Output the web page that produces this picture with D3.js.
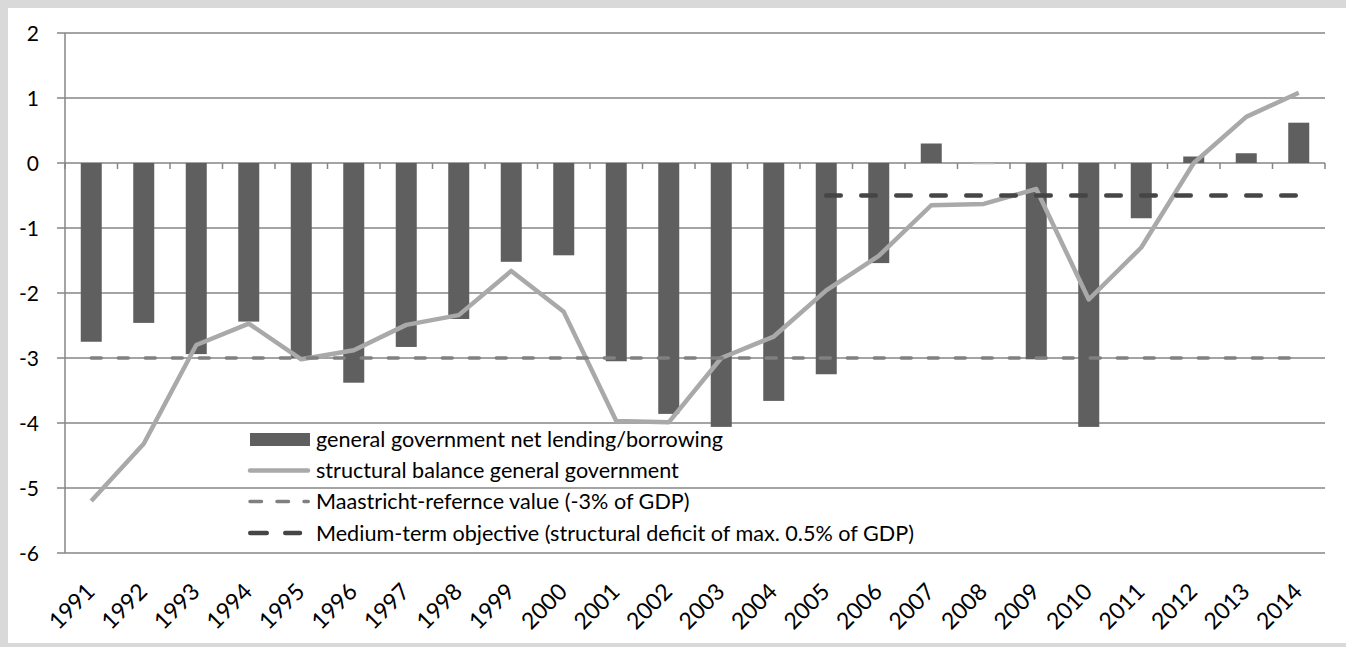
<!DOCTYPE html>
<html>
<head>
<meta charset="utf-8">
<script src="https://cdn.jsdelivr.net/npm/d3@7"></script>
<style>
  html, body { margin: 0; padding: 0; background: #d9d9d9; }
  svg { display: block; }
  text { font-family: Lato, "Open Sans", sans-serif; fill: #000; }
</style>
</head>
<body>
<svg id="chart" width="1346" height="647"></svg>
<script>
// Fiscal balance series, % of GDP
const years = ["1991","1992","1993","1994","1995","1996","1997","1998","1999","2000",
  "2001","2002","2003","2004","2005","2006","2007","2008","2009","2010",
  "2011","2012","2013","2014"];
const netLending = [-2.75,-2.46,-2.94,-2.44,-3.00,-3.38,-2.83,-2.40,-1.52,-1.42,
  -3.05,-3.86,-4.06,-3.66,-3.25,-1.54,0.30,-0.02,-3.02,-4.06,
  -0.85,0.10,0.15,0.62];
const structuralBalance = [-5.20,-4.32,-2.80,-2.47,-3.02,-2.88,-2.49,-2.34,-1.66,-2.29,
  -3.97,-3.99,-3.00,-2.67,-1.96,-1.43,-0.65,-0.63,-0.40,-2.10,
  -1.30,0.00,0.71,1.08];
const maastrichtValue = -3;
const maastrichtYears = ["1991","2014"];
const mtoValue = -0.5;
const mtoYears = ["2005","2014"];
const yTicks = [2,1,0,-1,-2,-3,-4,-5,-6];
const legendLabels = [
  "general government net lending/borrowing",
  "structural balance general government",
  "Maastricht-refernce value (-3% of GDP)",
  "Medium-term objective (structural deficit of max. 0.5% of GDP)"
];

const svg = d3.select("#chart");
svg.append("rect").attr("x", 8).attr("y", 8).attr("width", 1338).attr("height", 635).attr("fill", "#fff");

const plotL = 65, plotR = 1325, plotT = 33, plotB = 553;
const y = d3.scaleLinear().domain([-6, 2]).range([plotB, plotT]);
const x = d3.scaleBand().domain(years).range([plotL, plotR]).paddingInner(0.6).paddingOuter(0.3);
const cx = d => x(d) + x.bandwidth() / 2;
const edge = d3.scaleLinear().domain([0, years.length]).range([plotL, plotR]);

const gridColor = "#868686";
const barColor = "#5f5f5f";
const structColor = "#a9a9a9";
const maastrichtColor = "#808080";
const mtoColor = "#454545";

// horizontal gridlines with short left ticks
svg.append("g").selectAll("line").data(yTicks).join("line")
  .attr("x1", plotL - 8).attr("x2", plotR)
  .attr("y1", d => y(d)).attr("y2", d => y(d))
  .attr("stroke", gridColor).attr("stroke-width", 1.5);

// value axis line
svg.append("line").attr("x1", plotL).attr("x2", plotL).attr("y1", plotT).attr("y2", plotB)
  .attr("stroke", gridColor).attr("stroke-width", 1.5);

svg.append("g").selectAll("text").data(yTicks).join("text")
  .attr("x", 39).attr("y", d => y(d)).attr("dy", "0.36em")
  .attr("text-anchor", "end").attr("font-size", 21)
  .text(d => d);

// category axis along zero, ticks between categories
svg.append("g").selectAll("line").data(d3.range(years.length + 1)).join("line")
  .attr("x1", d => edge(d)).attr("x2", d => edge(d))
  .attr("y1", y(0)).attr("y2", y(0) + 6)
  .attr("stroke", gridColor).attr("stroke-width", 1.5);

// bars
svg.append("g").selectAll("rect").data(years).join("rect")
  .attr("x", d => x(d))
  .attr("width", x.bandwidth())
  .attr("y", (d, i) => y(Math.max(0, netLending[i])))
  .attr("height", (d, i) => Math.max(1, Math.abs(y(netLending[i]) - y(0))))
  .attr("fill", (d, i) => Math.abs(netLending[i]) < 0.05 ? "#bdbdbd" : barColor);

// structural balance line
const line = d3.line().x(d => cx(d[0])).y(d => y(d[1]));
svg.append("path").datum(years.map((d, i) => [d, structuralBalance[i]]))
  .attr("d", line).attr("fill", "none")
  .attr("stroke", structColor).attr("stroke-width", 4.5).attr("stroke-linejoin", "round");

// reference lines
svg.append("line")
  .attr("x1", cx(maastrichtYears[0])).attr("x2", cx(maastrichtYears[1]))
  .attr("y1", y(maastrichtValue)).attr("y2", y(maastrichtValue))
  .attr("stroke", maastrichtColor).attr("stroke-width", 3.5)
  .attr("stroke-dasharray", "10 17").attr("stroke-linecap", "round");

svg.append("line")
  .attr("x1", cx(mtoYears[0])).attr("x2", cx(mtoYears[1]))
  .attr("y1", y(mtoValue)).attr("y2", y(mtoValue))
  .attr("stroke", mtoColor).attr("stroke-width", 4.5)
  .attr("stroke-dasharray", "14.5 20.5").attr("stroke-linecap", "round");

// category labels
svg.append("g").selectAll("text").data(years).join("text")
  .attr("transform", d => `translate(${cx(d) + 5},${593}) rotate(-45)`)
  .attr("text-anchor", "end").attr("font-size", 23)
  .text(d => d);

// legend
const lg = svg.append("g");
const rowY = [439.5, 470.5, 501.5, 533];
const sx0 = 250, sx1 = 310, tx = 316;
lg.append("rect").attr("x", sx0).attr("y", rowY[0] - 6.5).attr("width", sx1 - sx0).attr("height", 13).attr("fill", barColor);
lg.append("line").attr("x1", sx0).attr("x2", sx1 - 2).attr("y1", rowY[1]).attr("y2", rowY[1])
  .attr("stroke", structColor).attr("stroke-width", 4.5).attr("stroke-linecap", "round");
lg.append("line").attr("x1", sx0).attr("x2", sx1 - 1.75).attr("y1", rowY[2]).attr("y2", rowY[2])
  .attr("stroke", maastrichtColor).attr("stroke-width", 3.5).attr("stroke-dasharray", "11.5 15.5").attr("stroke-linecap", "round");
lg.append("line").attr("x1", sx0 + 0.25).attr("x2", 300).attr("y1", rowY[3]).attr("y2", rowY[3])
  .attr("stroke", mtoColor).attr("stroke-width", 4.5).attr("stroke-dasharray", "16.5 18.5").attr("stroke-linecap", "round");
lg.selectAll("text").data(legendLabels).join("text")
  .attr("x", tx).attr("y", (d, i) => rowY[i]).attr("dy", "0.35em")
  .attr("font-size", 21.6)
  .text(d => d);
</script>
</body>
</html>
